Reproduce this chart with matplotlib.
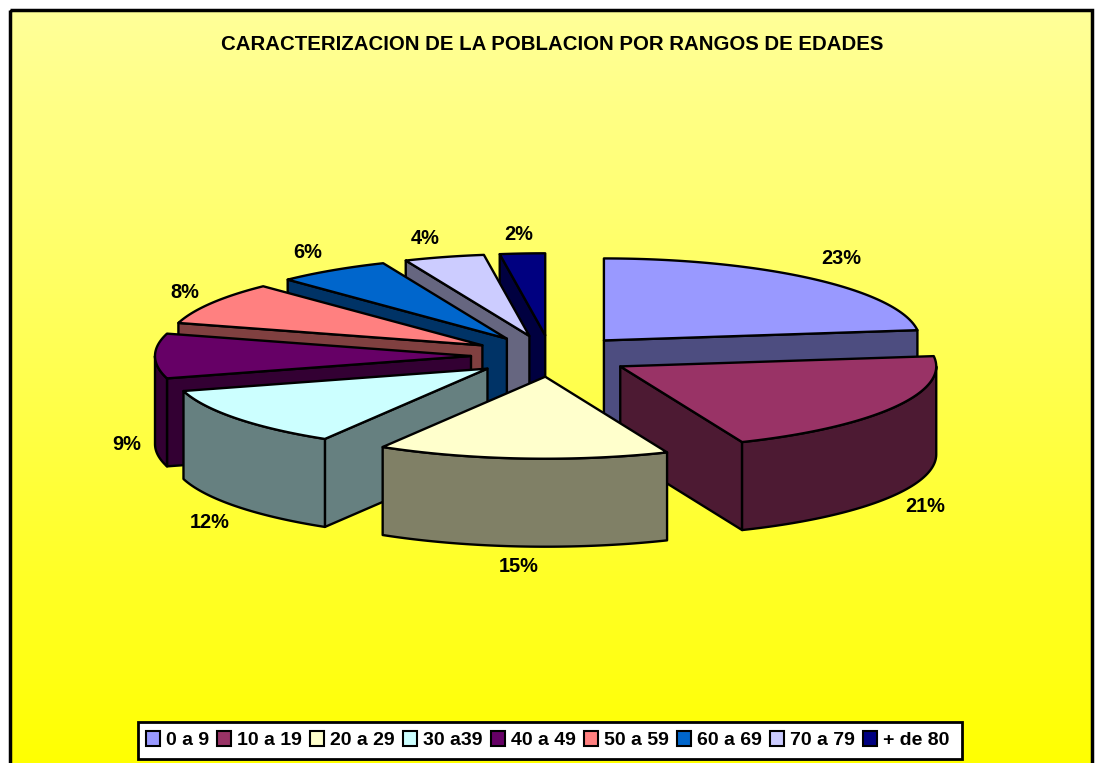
import numpy as np
import matplotlib
matplotlib.use("Agg")
import matplotlib.pyplot as plt
from matplotlib.patches import Polygon, Patch, Rectangle

plt.rcParams['font.family'] = ['Liberation Sans', 'DejaVu Sans']

title = "CARACTERIZACION DE LA POBLACION POR RANGOS DE EDADES"
categories = ["0 a 9", "10 a 19", "20 a 29", "30 a39", "40 a 49", "50 a 59", "60 a 69", "70 a 79", "+ de 80"]
values = [23.0, 20.7, 14.9, 12.0, 8.8, 8.4, 5.8, 4.1, 2.3]
top_colors = ["#9999FF", "#993366", "#FFFFCC", "#CCFFFF", "#660066", "#FF8080", "#0066CC", "#CCCCFF", "#000080"]
side_colors = ["#4D4D80", "#4D1A33", "#808066", "#668080", "#330033", "#804040", "#003366", "#666680", "#000040"]
label_xy = [(841, 259), (925, 506), (519, 567), (210, 522), (127, 445), (185, 292), (308, 253), (425, 238), (519, 234)]

W, H = 1095, 763
CX, CY = 551, 356
RX, RY = 316, 82
DEPTH = 88
EXPLODE = 80
LW = 1.7

fig = plt.figure(figsize=(W / 100, H / 100), dpi=100, facecolor="white")
ax = fig.add_axes([0, 0, 1, 1])
ax.set_xlim(0, W)
ax.set_ylim(H, 0)
ax.axis("off")

grad = np.zeros((256, 1, 3))
t = np.linspace(0, 1, 256)
grad[..., 0] = 1
grad[..., 1] = 1
grad[:, 0, 2] = 0.6 * (1 - t)
ax.imshow(grad, extent=(10, 1092, 770, 10), aspect="auto", zorder=0, interpolation="bilinear")
ax.set_xlim(0, W)
ax.set_ylim(H, 0)
ax.add_patch(Rectangle((10, 10), 1082, 770, fill=False, ec="black", lw=2.5, zorder=1))

vals = np.array(values, dtype=float)
edges = np.radians(np.concatenate([[0], np.cumsum(vals) / vals.sum() * 360]))


def rim(theta, ax0, ay0):
    return ax0 + RX * np.sin(theta), ay0 - RY * np.cos(theta)


mids = (edges[:-1] + edges[1:]) / 2
apex_x = CX + EXPLODE * np.sin(mids)
apex_y = CY - EXPLODE * RY / RX * np.cos(mids)
order = np.argsort(apex_y)

z = 2
for i in order:
    a0, a1 = edges[i], edges[i + 1]
    ax0, ay0 = apex_x[i], apex_y[i]
    style = dict(ec="black", lw=LW, joinstyle="round")
    faces = []
    if np.sin(a0) < 0:
        x, y = rim(a0, ax0, ay0)
        faces.append(([ax0, x, x, ax0], [ay0, y, y + DEPTH, ay0 + DEPTH]))
    if np.sin(a1) > 0:
        x, y = rim(a1, ax0, ay0)
        faces.append(([ax0, x, x, ax0], [ay0, y, y + DEPTH, ay0 + DEPTH]))
    lo, hi = max(a0, np.pi / 2), min(a1, 3 * np.pi / 2)
    if hi > lo:
        th = np.linspace(lo, hi, 60)
        x, y = rim(th, ax0, ay0)
        faces.append((np.r_[x, x[::-1]], np.r_[y, y[::-1] + DEPTH]))
    for fx, fy in faces:
        ax.add_patch(Polygon(np.c_[fx, fy], closed=True, fc=side_colors[i], zorder=z, **style))
        z += 1
    th = np.linspace(a0, a1, 80)
    x, y = rim(th, ax0, ay0)
    ax.add_patch(Polygon(np.c_[np.r_[ax0, x], np.r_[ay0, y]], closed=True, fc=top_colors[i], zorder=z, **style))
    z += 1

for v, (lx, ly) in zip(values, label_xy):
    ax.text(lx, ly, f"{v:.0f}%", ha="center", va="center", fontsize=14.4, fontweight="bold", color="black", zorder=z)

ax.text(552, 44, title, ha="center", va="center", fontsize=14.7, fontweight="bold", color="black", zorder=z)

ax.add_patch(Rectangle((138, 722), 824, 37, fc="white", ec="black", lw=2, zorder=z))
handles = [Patch(fc=c, ec="black", lw=1.5) for c in top_colors]
leg = ax.legend(handles, categories, ncol=len(categories), loc="center left", bbox_to_anchor=(146, 740),
                bbox_transform=ax.transData, frameon=False,
                prop=dict(size=14, weight="bold"), handlelength=0.72, handleheight=0.85,
                handletextpad=0.3, columnspacing=0.43, borderpad=0, borderaxespad=0)
leg.set_zorder(z + 1)

fig.savefig("out.png", dpi=100, facecolor="white")
